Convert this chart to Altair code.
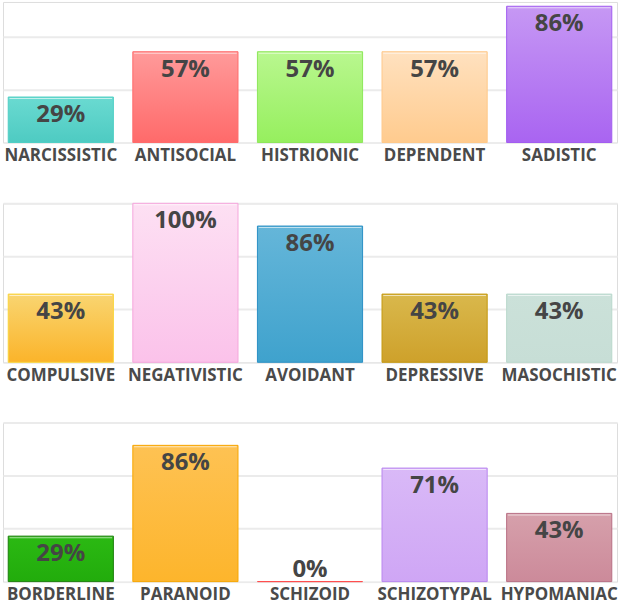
import altair as alt
import pandas as pd

categories = ["NARCISSISTIC", "ANTISOCIAL", "HISTRIONIC", "DEPENDENT", "SADISTIC",
              "COMPULSIVE", "NEGATIVISTIC", "AVOIDANT", "DEPRESSIVE", "MASOCHISTIC",
              "BORDERLINE", "PARANOID", "SCHIZOID", "SCHIZOTYPAL", "HYPOMANIAC"]
values = [28.6, 57.1, 57.1, 57.1, 85.7,
          42.9, 100.0, 85.7, 42.9, 42.9,
          28.6, 85.7, 0.0, 71.4, 42.9]
row_of = [0, 0, 0, 0, 0, 1, 1, 1, 1, 1, 2, 2, 2, 2, 2]

top_colors = ["#6adad1", "#ff9a9a", "#b9f78f", "#ffe1bf", "#c698f4",
              "#f9d571", "#fde0f3", "#65b6d9", "#d9b84c", "#cbe1d9",
              "#2bb913", "#fec253", "#ff6b6b", "#d9b9f7", "#d6a0ab"]
bottom_colors = ["#4ecbc2", "#ff6a6a", "#96ef5e", "#ffcb8e", "#a964f1",
                 "#fbb42a", "#fbc2ea", "#3fa2cd", "#cea12b", "#c7ded6",
                 "#22ac0c", "#fdb52c", "#ff6b6b", "#cfa6f5", "#cc8a9a"]
stroke_colors = ["#4fcfc5", "#ff6b6b", "#8ee75a", "#ffc98a", "#a25cf0",
                 "#fad53a", "#f5a6dc", "#2a90c5", "#c4980e", "#b9d8cc",
                 "#1b7f0b", "#f7a600", "#ff4d4d", "#b987ef", "#b86e84"]

grid_values = [0, 100 / 3, 200 / 3, 100]

FONT = "Open Sans"
TEXT_COLOR = "#454545"
PX_PER_PCT = 1.595


def make_row(r):
    idx = [i for i in range(len(categories)) if row_of[i] == r]
    cats = [categories[i] for i in idx]
    df = pd.DataFrame({"category": cats, "value": [values[i] for i in idx]})
    height = 141 if r == 0 else 159.5
    ymax = height / PX_PER_PCT

    x = alt.X(
        "category:N",
        scale=alt.Scale(domain=cats, paddingInner=0.156, paddingOuter=0.042),
        axis=alt.Axis(title=None, labelAngle=0, ticks=False, domain=False, grid=False,
                      labelFont=FONT, labelFontSize=17, labelFontWeight="bold",
                      labelColor="#4a4a4a", labelPadding=5, labelBound=False,
                      labelOverlap=False, labelLimit=300),
    )
    y = alt.Y(
        "value:Q",
        scale=alt.Scale(domain=[0, ymax], nice=False, zero=True),
        axis=alt.Axis(title=None, labels=False, ticks=False, domain=False, grid=True,
                      values=[v for v in grid_values if v <= ymax + 0.01],
                      gridColor="#ebebeb",
                      gridWidth={"condition": {"test": "datum.value === 0", "value": 1}, "value": 2}),
    )

    base = alt.Chart(df)
    layers = []
    for i in idx:
        grad = alt.Gradient(
            gradient="linear",
            stops=[alt.GradientStop(color=top_colors[i], offset=0),
                   alt.GradientStop(color=bottom_colors[i], offset=1)],
            x1=0, x2=0, y1=0, y2=1,
        )
        layers.append(
            base.transform_filter(alt.datum.category == categories[i])
            .mark_bar(fill=grad, stroke=stroke_colors[i], strokeWidth=1)
            .encode(x=x, y=y)
        )
    highlight = (
        base.transform_filter("datum.value > 0")
        .mark_tick(orient="horizontal", size=103, thickness=1, color="white",
                   opacity=0.6, yOffset=1.5)
        .encode(x=x, y=y)
    )
    labels_in = (
        base.transform_filter("datum.value > 0")
        .transform_calculate(label="format(datum.value, '.0f') + '%'")
        .mark_text(font=FONT, fontSize=24, fontWeight="bold", color=TEXT_COLOR,
                   baseline="top", dy=6)
        .encode(x=x, y=y, text="label:N")
    )
    labels_zero = (
        base.transform_filter("datum.value <= 0")
        .transform_calculate(label="format(datum.value, '.0f') + '%'")
        .mark_text(font=FONT, fontSize=24, fontWeight="bold", color=TEXT_COLOR,
                   baseline="alphabetic", dy=-5)
        .encode(x=x, y=y, text="label:N")
    )
    return alt.layer(*layers, highlight, labels_in, labels_zero).properties(width=616, height=height)


chart = (
    alt.vconcat(make_row(0), make_row(1), make_row(2), spacing=38)
    .properties(padding={"left": 2, "right": 6, "top": 0, "bottom": 0}, background="white")
    .configure_view(stroke="transparent", strokeWidth=0)
    .configure(font=FONT)
)

chart.save("out.html", embed_options={"renderer": "svg", "actions": False})
